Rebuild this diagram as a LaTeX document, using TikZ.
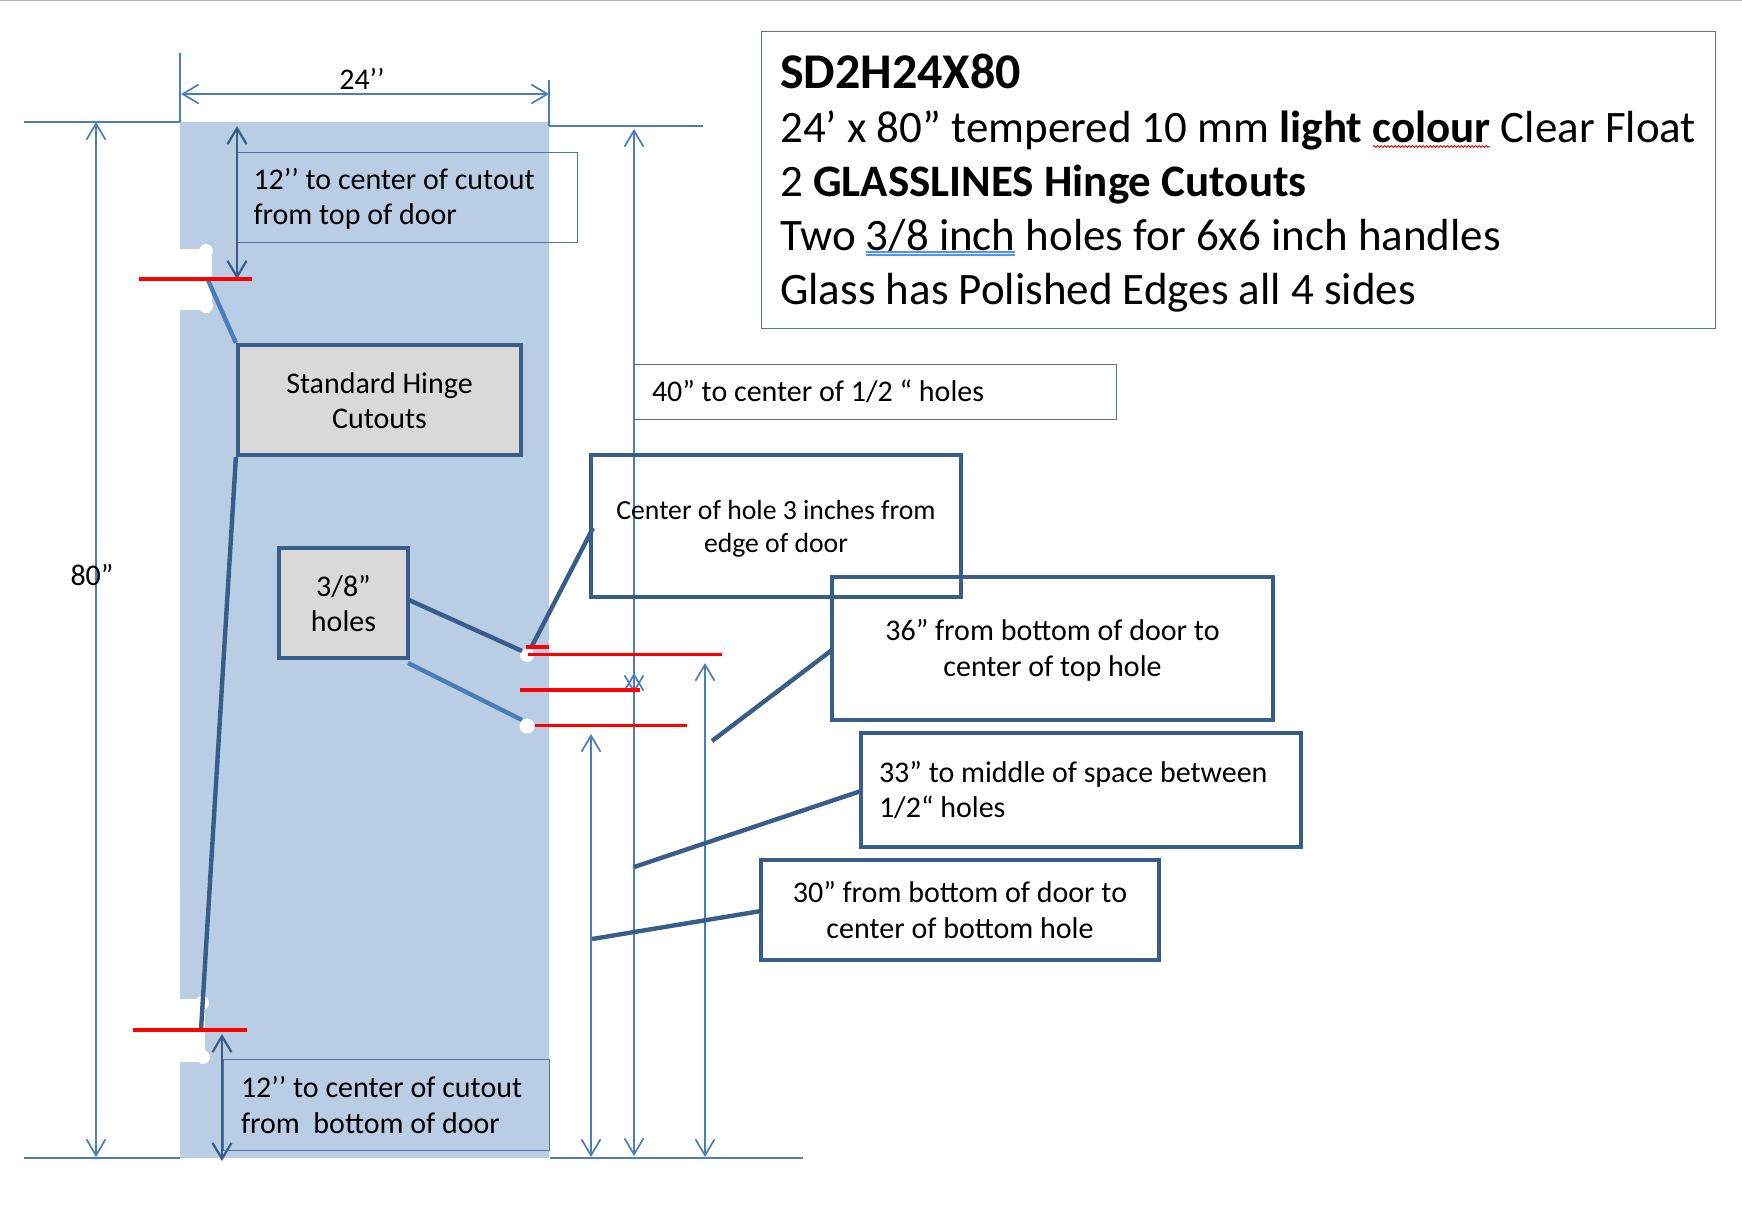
\documentclass[tikz,border=0pt]{standalone}
\usepackage{fontspec}
\setmainfont{Carlito}
\usetikzlibrary{arrows.meta,decorations.pathmorphing}
\definecolor{door}{HTML}{B9CDE5}
\definecolor{dk}{HTML}{385D8A}
\definecolor{md}{HTML}{4A7EBB}
\definecolor{gr}{HTML}{D9D9D9}
\newcommand{\lbl}{\fontsize{30}{35.5}\selectfont}
\newcommand{\dn}{\rule{0pt}{25pt}}
\newcommand{\dnb}{\rule{0pt}{22.5pt}}
\tikzset{
  x=1pt,y=-1pt,
  dim/.style={draw=md,line width=1.7pt,{Straight Barb[length=16pt,width=19pt,line width=1.7pt]}-{Straight Barb[length=16pt,width=19pt,line width=1.7pt]}},
  dimd/.style={draw=dk,line width=2.2pt,{Straight Barb[length=16pt,width=19pt,line width=2.2pt]}-{Straight Barb[length=16pt,width=19pt,line width=2.2pt]}},
  ext/.style={draw=md,line width=1.7pt},
  redl/.style={draw=red,line width=3.3pt},
  lead/.style={draw=dk,line width=4.4pt},
  leadm/.style={draw=md,line width=4.4pt},
  thinbox/.style={draw=dk!85!white,line width=0.8pt,inner sep=0pt,font=\lbl,align=flush left},
  thickbox/.style={draw=dk,line width=4.2pt,inner sep=0pt,font=\lbl,align=center},
  tag/.style={fill=gr},
  free/.style={inner sep=0pt,font=\lbl},
  big/.style={inner sep=0pt,anchor=base west,font=\fontsize{45}{54}\selectfont},
}
\begin{document}
\begin{tikzpicture}
\useasboundingbox (0,0) rectangle (1742,1227);
\draw[gray!60,line width=1pt] (0,0.5) -- (1742,0.5);
% door
\fill[door] (180,122) rectangle (549,1158);
\fill[white] (180,249) rectangle (212,310);
\fill[white] (206,251) circle (7);
\fill[white] (206,306) circle (7);
\fill[white] (180,999) rectangle (205,1062);
\fill[white] (202,1003) circle (7);
\fill[white] (203,1057) circle (7);
\fill[white] (527,655) circle (7);
\fill[white] (527,726) circle (7.5);
% coordinates
\coordinate (tl) at (180,53);
\coordinate (tlb) at (180,122);
\coordinate (tr) at (549,80);
\coordinate (trb) at (549,126);
\coordinate (wa) at (181,94);
\coordinate (wb) at (549,94);
\coordinate (lt) at (24,122);
\coordinate (rt) at (703,126);
\coordinate (lb) at (24,1158);
\coordinate (lbe) at (180,1158);
\coordinate (rbs) at (550,1158);
\coordinate (rb) at (803,1158);
\coordinate (ha) at (96,122);
\coordinate (hb) at (96,1157);
\coordinate (cta) at (237,126);
\coordinate (ctb) at (237,279);
\coordinate (cba) at (222,1034);
\coordinate (cbb) at (222,1161);
\coordinate (la) at (634,129);
\coordinate (lb2) at (634,693);
\coordinate (lc) at (634,673);
\coordinate (ld) at (634,1156);
\coordinate (ma) at (705,663);
\coordinate (mb) at (705,1157);
\coordinate (na) at (591,734);
\coordinate (nb) at (591,1157);
% extension lines
\draw[ext] (tl) -- (tlb);
\draw[ext] (tr) -- (trb);
\draw[ext] (lt) -- (tlb);
\draw[ext] (trb) -- (rt);
\draw[ext] (lb) -- (lbe);
\draw[ext] (rbs) -- (rb);
% label boxes (thin)
\node[thinbox,minimum width=340pt,minimum height=90pt,text width=307pt] (b12t) at (407,197) {\dn 12’’ to center of cutout\\from top of door};
\node[thinbox,minimum width=326pt,minimum height=91pt,text width=290pt] (b12b) at (386,1104.5) {\dnb 12’’ to center of cutout\\from\ \ bottom of door};
\node[thinbox,minimum width=482pt,minimum height=55pt,text width=446pt] (b40) at (875,391.5) {40” to center of 1/2 “ holes};
% dimension arrows
\draw[dim] (wa) -- (wb);
\draw[dim] (ha) -- (hb);
\draw[dim] (la) -- (lb2);
\draw[dim] (lc) -- (ld);
\draw[dim] (ma) -- (mb);
\draw[dim] (na) -- (nb);
\draw[dimd] (cta) -- (ctb);
\draw[dimd] (cba) -- (cbb);
% text
\node[free] (w24) at (362,79) {24’’};
\node[free] (h80) at (92,575) {80”};
% big box
\node[draw=dk!85!white,line width=0.9pt,inner sep=0pt,minimum width=954pt,minimum height=297pt] (spec) at (1238,179.5) {};
\node[big,font=\fontsize{50}{60}\selectfont\bfseries] (s1) at (780,88) {SD2H24X80};
\node[big] (s2) at (780,142.5) {24’ x 80” tempered 10 mm \textbf{light colour} Clear Float};
\node[big] (s3) at (780,196.5) {2 \textbf{GLASSLINES Hinge Cutouts}};
\node[big] (s4) at (780,250.5) {Two 3/8 inch holes for 6x6 inch handles};
\node[big] (s5) at (780,304) {Glass has Polished Edges all 4 sides};
\coordinate (sqa) at (1373,146.5);
\coordinate (sqb) at (1490,146.5);
\draw[red!85!black,line width=0.8pt,decorate,decoration={snake,amplitude=1pt,segment length=3.5pt}] (sqa) -- (sqb);
\coordinate (dua) at (866,252);
\coordinate (dub) at (1015,252);
\coordinate (dva) at (866,255);
\coordinate (dvb) at (1015,255);
\draw[blue!60!cyan!70!white,line width=1.1pt] (dua) -- (dub);
\draw[blue!60!cyan!70!white,line width=1.1pt] (dva) -- (dvb);
% thick boxes
\node[thickbox,tag,minimum width=283pt,minimum height=110pt] (hinge) at (379.5,400) {\dnb Standard Hinge\\Cutouts};
\node[thickbox,tag,minimum width=129pt,minimum height=110pt] (holes) at (343.5,603) {\dnb 3/8”\\holes};
\node[thickbox,minimum width=370pt,minimum height=142pt,font=\fontsize{27.7}{33}\selectfont] (center) at (776,526) {\dn Center of hole 3 inches from\\edge of door};
\node[thickbox,minimum width=441pt,minimum height=143pt] (b36) at (1052.5,648.5) {\dn 36” from bottom of door to\\center of top hole};
\node[thickbox,minimum width=440pt,minimum height=114pt,align=flush left,text width=404pt] (b33) at (1081,790) {33” to middle of space between\\1/2“ holes};
\node[thickbox,minimum width=398pt,minimum height=100pt] (b30) at (960,910) {30” from bottom of door to\\center of bottom hole};
% leaders
\coordinate (ht) at (208,280);
\coordinate (hbm) at (201,1030);
\coordinate (ca) at (409,600);
\coordinate (cb) at (522,651);
\coordinate (da) at (408,663);
\coordinate (db) at (522,720);
\coordinate (ea) at (593,528);
\coordinate (eb) at (532,646);
\coordinate (fa) at (832,650);
\coordinate (fb) at (712,741);
\coordinate (ga) at (861,791);
\coordinate (gb) at (634,867);
\coordinate (ia) at (761,911);
\coordinate (ib) at (592,939);
\draw[leadm] (ht) -- (hinge.north west);
\draw[lead] (hinge.south west) -- (hbm);
\draw[lead] (ca) -- (cb);
\draw[leadm] (da) -- (db);
\draw[lead] (ea) -- (eb);
\draw[lead] (fa) -- (fb);
\draw[lead] (ga) -- (gb);
\draw[lead] (ia) -- (ib);
% red lines
\coordinate (r1a) at (139,279); \coordinate (r1b) at (252,279);
\coordinate (r2a) at (133,1030); \coordinate (r2b) at (247,1030);
\coordinate (r3a) at (526,647); \coordinate (r3b) at (549,647);
\coordinate (r4a) at (528,654.5); \coordinate (r4b) at (722,654.5);
\coordinate (r5a) at (520,690); \coordinate (r5b) at (640,690);
\coordinate (r6a) at (535,725.5); \coordinate (r6b) at (687,725.5);
\draw[redl] (r1a) -- (r1b);
\draw[redl] (r2a) -- (r2b);
\draw[redl] (r3a) -- (r3b);
\draw[redl] (r4a) -- (r4b);
\draw[redl] (r5a) -- (r5b);
\draw[redl] (r6a) -- (r6b);
\end{tikzpicture}
\end{document}
